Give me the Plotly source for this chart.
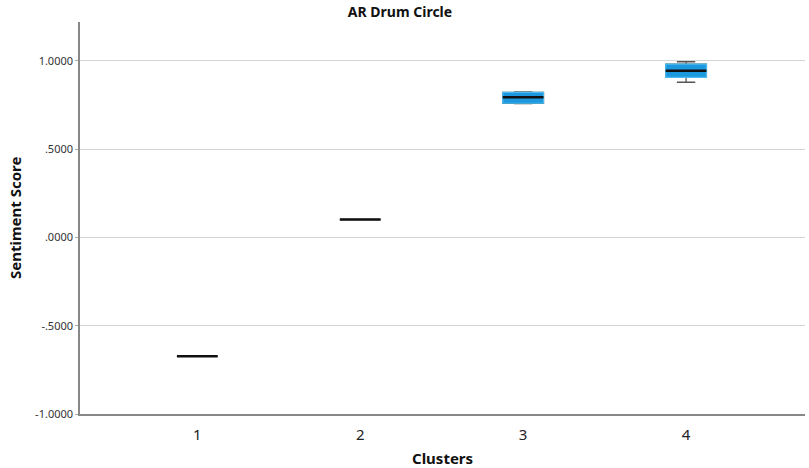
import plotly.graph_objects as go

clusters = ["1", "2", "3", "4"]
q1 = [-0.673, 0.101, 0.759, 0.906]
median = [-0.673, 0.101, 0.793, 0.943]
q3 = [-0.673, 0.101, 0.821, 0.981]
lower = [-0.673, 0.101, 0.757, 0.878]
upper = [-0.673, 0.101, 0.823, 0.994]

y_tickvals = [-1.0, -0.5, 0.0, 0.5, 1.0]
y_ticktext = ["-1.0000", "-.5000", ".0000", ".5000", "1.0000"]

FILL = "#1c98de"
EDGE = "#4dbbf0"
BW = 0.25

fig = go.Figure()
# whiskers
fig.add_trace(go.Box(x=clusters, q1=q1, median=median, q3=q3,
                     lowerfence=lower, upperfence=upper,
                     width=BW, whiskerwidth=0.45, fillcolor=FILL,
                     line=dict(color="#555555", width=1.3),
                     boxpoints=False, hoverinfo="skip", showlegend=False))
# box body
fig.add_trace(go.Box(x=clusters, q1=q1, median=median, q3=q3,
                     lowerfence=q1, upperfence=q3,
                     width=BW, whiskerwidth=0, fillcolor=FILL,
                     line=dict(color=EDGE, width=1.2),
                     boxpoints=False, hoverinfo="skip", showlegend=False))
# median line
fig.add_trace(go.Box(x=clusters, q1=median, median=median, q3=median,
                     lowerfence=median, upperfence=median,
                     width=BW, whiskerwidth=0, fillcolor="rgba(0,0,0,0)",
                     line=dict(color="#111111", width=2.6),
                     boxpoints=False, hoverinfo="skip", showlegend=False))

fig.update_layout(
    width=809, height=468,
    margin=dict(l=80, r=4, t=22, b=54),
    paper_bgcolor="white", plot_bgcolor="white",
    boxmode="overlay",
    font=dict(family="Noto Sans, Open Sans, sans-serif", color="#222222"),
    title=dict(text="<b>AR Drum Circle</b>", x=400/809, xref="container",
               xanchor="center", y=1 - 12/468, yref="container", yanchor="middle",
               font=dict(size=14, color="#111111")),
    xaxis=dict(type="category", range=[-0.72, 3.73], automargin=False,
               showgrid=False, showline=True, linecolor="#888888", linewidth=1.5,
               ticks="outside", ticklen=6, tickcolor="rgba(0,0,0,0)",
               tickfont=dict(size=15, color="#222222")),
    yaxis=dict(range=[-1.0, 1.219], tickvals=y_tickvals, ticktext=y_ticktext,
               automargin=False,
               showgrid=True, gridcolor="#d4d4d4", gridwidth=1,
               zeroline=False, showline=True, linecolor="#888888", linewidth=1.5,
               ticks="outside", ticklen=3, tickcolor="#aaaaaa",
               tickfont=dict(size=11, color="#333333")),
    annotations=[
        dict(text="<b>Clusters</b>", xref="paper", yref="paper", x=0.5, y=-(458 - 414) / 392,
             xanchor="center", yanchor="middle", showarrow=False,
             font=dict(size=15, color="#111111")),
        dict(text="<b>Sentiment Score</b>", xref="paper", yref="paper",
             x=-(80 - 15) / 725, y=0.5, textangle=-90,
             xanchor="center", yanchor="middle", showarrow=False,
             font=dict(size=15, color="#111111")),
    ],
)

fig.write_html("out.html", config={"displayModeBar": False},
               post_script="document.body.style.margin='0';document.body.style.overflow='hidden';")
